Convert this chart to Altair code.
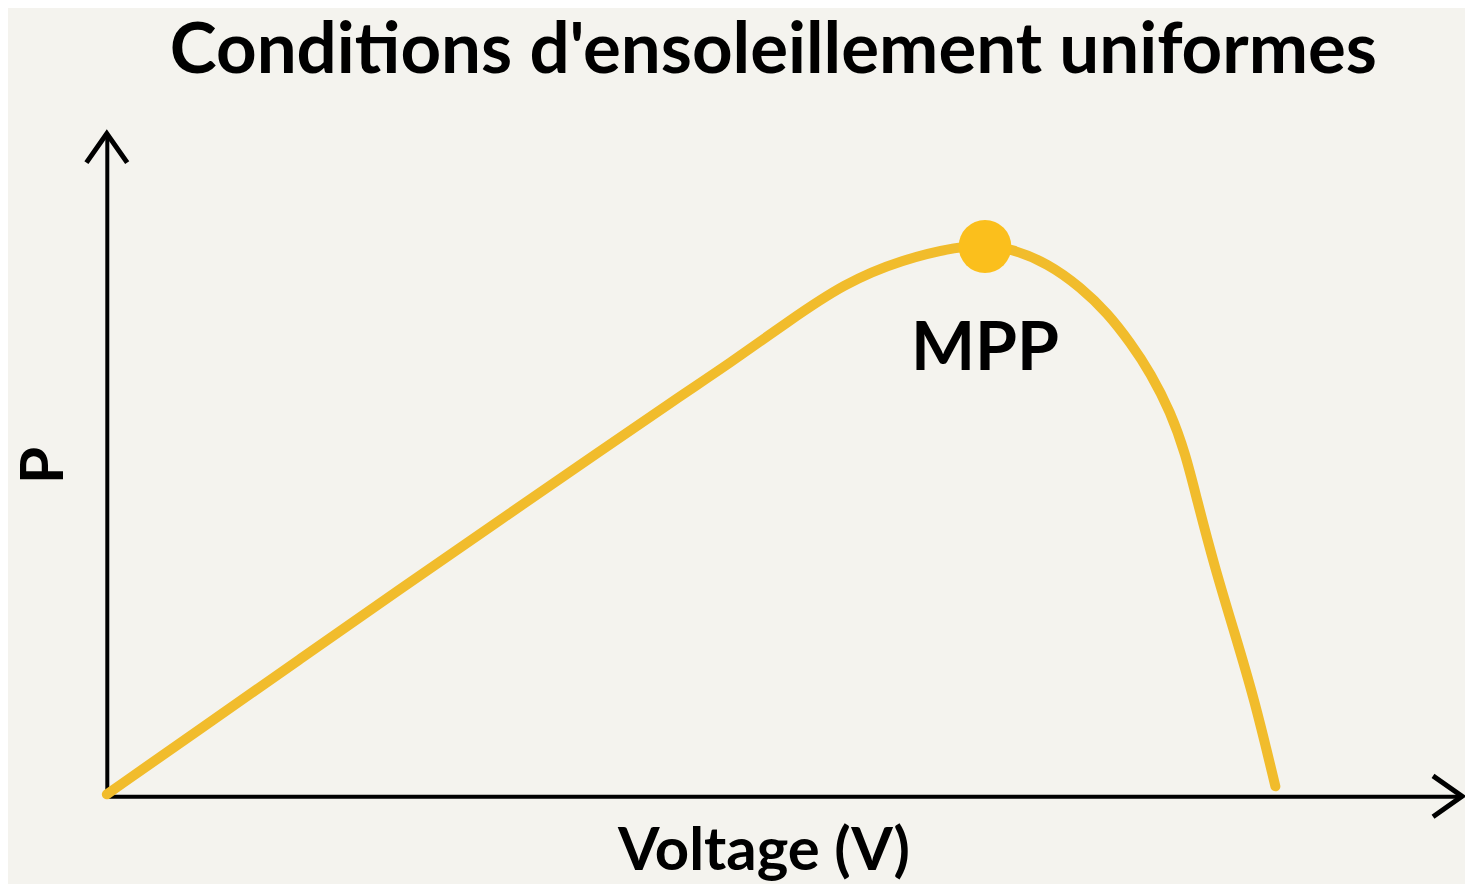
import altair as alt
import pandas as pd

# P-V curve (voltage in % of Voc, power in % of Pmpp)
voltage = [0, 7.94, 16.48, 25.02, 33.56, 42.10, 48.93, 53.20, 58.33, 63.11, 68.06,
           72.93, 75.15, 77.37, 80.53, 83.35, 85.65, 87.62, 89.33, 91.03, 92.31,
           93.25, 94.79, 96.50, 98.21, 100.0]
power = [0.36, 12.14, 24.82, 37.50, 50.0, 62.5, 72.46, 78.44, 86.23, 93.12, 97.46,
         99.82, 100.0, 99.46, 96.74, 92.39, 87.68, 82.25, 76.81, 69.75, 62.14,
         54.17, 41.67, 29.71, 17.57, 1.8]

mpp_v = [75.15]
mpp_p = [99.8]
mpp_label = ["MPP"]

x_max = 115.97
y_max = 120.29

curve = pd.DataFrame({"V": voltage, "P": power})
mpp = pd.DataFrame({"V": mpp_v, "P": mpp_p, "label": mpp_label})
arrows = pd.DataFrame({"V": [x_max, 0.0], "P": [0.0, y_max], "angle": [90, 0]})

FONT = "Lato"
CURVE = "#f1bc2c"
DOT = "#fbbf1c"

xs = alt.Scale(domain=[0, x_max], nice=False, zero=True)
ys = alt.Scale(domain=[0, y_max], nice=False, zero=True)

base = alt.Chart(curve)

line = base.mark_line(color=CURVE, strokeWidth=10, interpolate="basis",
                      strokeCap="round").encode(
    x=alt.X("V:Q", scale=xs, axis=alt.Axis(
        title="Voltage (V)", titleFontSize=60, titleFont=FONT, titleFontWeight="bold",
        titleColor="black", titlePadding=26, titleX=658,
        domainColor="black", domainWidth=4, ticks=False, labels=False, grid=False)),
    y=alt.Y("P:Q", scale=ys, axis=alt.Axis(
        title="P", titleFontSize=60, titleFont=FONT, titleFontWeight="bold",
        titleColor="black", titlePadding=31,
        domainColor="black", domainWidth=4, ticks=False, labels=False, grid=False)),
)

dot = alt.Chart(mpp).mark_point(filled=True, color=DOT, opacity=1, size=2800).encode(
    x=alt.X("V:Q", scale=xs), y=alt.Y("P:Q", scale=ys))

label = alt.Chart(mpp).mark_text(font=FONT, fontWeight="bold", fontSize=68,
                                 color="black", baseline="middle", dy=104).encode(
    x=alt.X("V:Q", scale=xs), y=alt.Y("P:Q", scale=ys), text="label:N")

arrow = alt.Chart(arrows).mark_point(
    shape="M-0.95,1.35L0,0L0.95,1.35", filled=False, stroke="black",
    strokeWidth=5, size=1600, opacity=1, strokeJoin="miter", strokeCap="square").encode(
    x=alt.X("V:Q", scale=xs), y=alt.Y("P:Q", scale=ys), angle=alt.Angle("angle:Q", scale=None))

chart = alt.layer(line, dot, label, arrow).properties(
    width=1358, height=664,
    title=alt.TitleParams("Conditions d'ensoleillement uniformes", font=FONT,
                          fontSize=71, fontWeight="bold", color="black",
                          anchor="middle", dx=-11, offset=36),
    background="#f4f3ee",
    padding={"left": 99, "top": 125, "right": 3, "bottom": 87},
    autosize=alt.AutoSizeParams(type="none"),
).configure_view(stroke=None)

chart.save("out.html", embed_options={"renderer": "svg", "actions": False})
